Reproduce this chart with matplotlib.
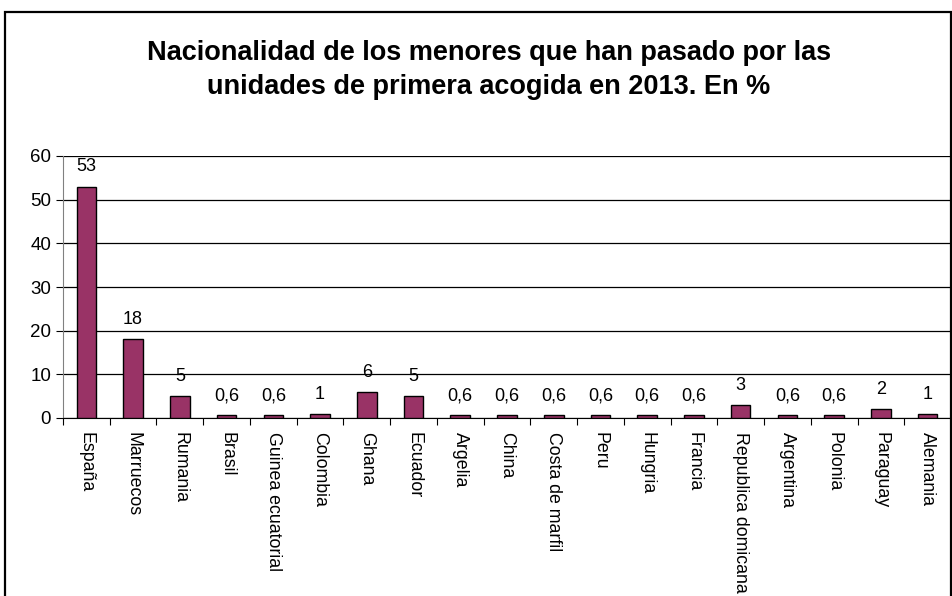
import numpy as np
import matplotlib.pyplot as plt
from matplotlib.patches import Rectangle

plt.rcParams['font.family'] = ['Liberation Sans', 'DejaVu Sans']

paises = ["España", "Marruecos", "Rumania", "Brasil", "Guinea ecuatorial",
          "Colombia", "Ghana", "Ecuador", "Argelia", "China", "Costa de marfil",
          "Peru", "Hungria", "Francia", "Republica domicana", "Argentina",
          "Polonia", "Paraguay", "Alemania"]
valores = [53, 18, 5, 0.6, 0.6, 1, 6, 5, 0.6, 0.6, 0.6, 0.6, 0.6, 0.6, 3,
           0.6, 0.6, 2, 1]
etiquetas = ["53", "18", "5", "0,6", "0,6", "1", "6", "5", "0,6", "0,6", "0,6",
             "0,6", "0,6", "0,6", "3", "0,6", "0,6", "2", "1"]

fig = plt.figure(figsize=(9.53, 5.96), dpi=100)
W, H = 953, 596
ax = fig.add_axes([63 / W, 1 - 418 / H, 888 / W, (418 - 156) / H])

# marco exterior
fig.patches.append(Rectangle((5 / W, -0.1), 946 / W, 1.1 - 12 / H,
                             transform=fig.transFigure, fill=False,
                             edgecolor='black', linewidth=1.6))

x = np.arange(len(paises))
ax.bar(x, valores, width=0.42, color='#993366', edgecolor='black',
       linewidth=1.0, zorder=3)
for xi, v, t in zip(x, valores, etiquetas):
    ax.annotate(t, (xi, v), xytext=(0, 8), textcoords='offset points',
                ha='center', va='bottom', fontsize=13)

ax.set_xlim(-0.5, len(paises) - 0.5)
ax.set_ylim(0, 60)
ax.set_yticks(range(0, 61, 10))
ax.yaxis.grid(True, color='black', linewidth=0.9, zorder=0)
ax.set_xticks(np.arange(-0.5, len(paises), 1))
ax.set_xticklabels([])
ax.set_xticks(x, minor=True)
ax.set_xticklabels(paises, minor=True, rotation=-90, fontsize=12.8,
                   va='top', ha='center')
ax.tick_params(axis='x', which='minor', length=0, pad=10)
ax.tick_params(axis='x', which='major', length=5, direction='out', color='black')
ax.tick_params(axis='y', length=5, direction='out', labelsize=13.5)
for s in ['top', 'right']:
    ax.spines[s].set_visible(False)
ax.spines['left'].set_color('#808080')
ax.spines['bottom'].set_color('black')

fig.text(0.513, 1 - 70 / H,
         "Nacionalidad de los menores que han pasado por las\n"
         "unidades de primera acogida en 2013. En %",
         ha='center', va='center', fontsize=19.5, fontweight='bold',
         linespacing=1.45)

fig.savefig('out.png', dpi=100)
